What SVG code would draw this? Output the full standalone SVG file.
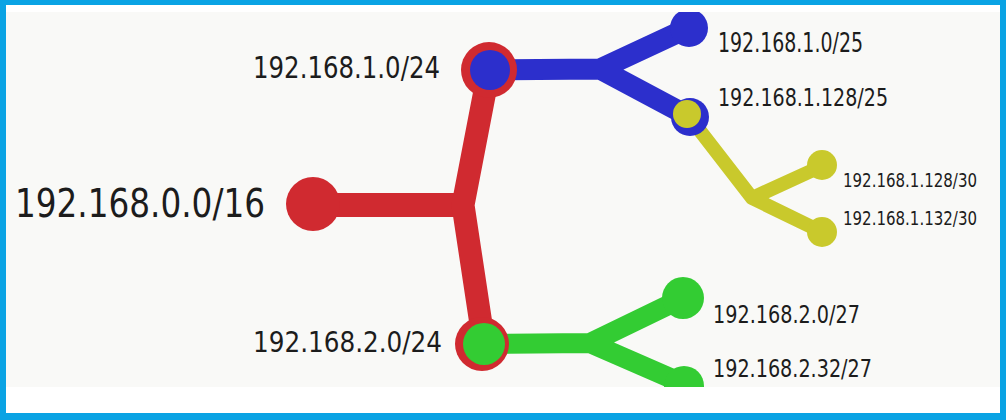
<svg xmlns="http://www.w3.org/2000/svg" width="1006" height="420" viewBox="0 0 1006 420">
  <style>
    .lbl { font-family: "DejaVu Sans Condensed", "DejaVu Sans", "Liberation Sans", sans-serif; fill: #1c1c1c; }
    .red { stroke: #d02a30; fill: none; stroke-linecap: round; stroke-linejoin: round; }
    .blue { stroke: #2c2fcc; fill: none; stroke-linecap: round; stroke-linejoin: round; }
    .green { stroke: #33cc33; fill: none; stroke-linecap: round; stroke-linejoin: round; }
    .yellow { stroke: #c9c92c; fill: none; stroke-linecap: round; stroke-linejoin: round; }
  </style>
  <defs>
    <clipPath id="area">
      <rect x="6" y="12" width="994" height="375"/>
    </clipPath>
  </defs>
  <rect x="0" y="0" width="1006" height="420" fill="#0aa3e4"/>
  <rect x="6" y="5" width="994" height="408" fill="#ffffff"/>
  <rect x="6" y="12" width="994" height="375" fill="#f9f9f7"/>

  <g clip-path="url(#area)">
    <g id="connectors">
      <path class="red" stroke-width="24" d="M313,205 L462,205"/>
      <path class="red" stroke-width="23" d="M489,70 L463,205 L484,344"/>
      <path class="blue" stroke-width="21" d="M490,70 L600,69 L688,28 M600,69 L690,117"/>
      <path class="green" stroke-width="20" d="M484,344 L590,343 L683,298 M590,343 L684,384"/>
      <path class="yellow" stroke-width="14" d="M687,114 L752,198 L822,166 M752,198 L822,232"/>
    </g>

    <g id="node-root">
      <circle cx="313" cy="204" r="27" fill="#d02a30"/>
      <text class="lbl" x="15" y="217" font-size="39" textLength="250" lengthAdjust="spacingAndGlyphs">192.168.0.0/16</text>
    </g>

    <g id="node-1-0-24">
      <circle cx="489" cy="70" r="28" fill="#d02a30"/>
      <circle cx="490" cy="70" r="20" fill="#2c2fcc"/>
      <text class="lbl" x="253" y="78" font-size="30" textLength="187" lengthAdjust="spacingAndGlyphs">192.168.1.0/24</text>
    </g>

    <g id="node-2-0-24">
      <circle cx="482" cy="344" r="27" fill="#d02a30"/>
      <circle cx="484" cy="344" r="21" fill="#33cc33"/>
      <text class="lbl" x="253" y="352" font-size="29" textLength="189" lengthAdjust="spacingAndGlyphs">192.168.2.0/24</text>
    </g>

    <g id="node-1-0-25">
      <circle cx="689" cy="28" r="19" fill="#2c2fcc"/>
      <text class="lbl" x="718" y="52" font-size="26" textLength="145" lengthAdjust="spacingAndGlyphs">192.168.1.0/25</text>
    </g>

    <g id="node-1-128-25">
      <circle cx="690" cy="117" r="19" fill="#2c2fcc"/>
      <circle cx="687" cy="114" r="14" fill="#c9c92c"/>
      <text class="lbl" x="718" y="106" font-size="24" textLength="170" lengthAdjust="spacingAndGlyphs">192.168.1.128/25</text>
    </g>

    <g id="node-1-128-30">
      <circle cx="822" cy="165" r="15" fill="#c9c92c"/>
      <text class="lbl" x="843" y="187" font-size="19" textLength="134" lengthAdjust="spacingAndGlyphs">192.168.1.128/30</text>
    </g>

    <g id="node-1-132-30">
      <circle cx="822" cy="232" r="15" fill="#c9c92c"/>
      <text class="lbl" x="843" y="225" font-size="19" textLength="134" lengthAdjust="spacingAndGlyphs">192.168.1.132/30</text>
    </g>

    <g id="node-2-0-27">
      <circle cx="683" cy="298" r="21" fill="#33cc33"/>
      <text class="lbl" x="713" y="323" font-size="25" textLength="147" lengthAdjust="spacingAndGlyphs">192.168.2.0/27</text>
    </g>

    <g id="node-2-32-27">
      <circle cx="684" cy="386" r="20" fill="#33cc33"/>
      <text class="lbl" x="713" y="377" font-size="25" textLength="159" lengthAdjust="spacingAndGlyphs">192.168.2.32/27</text>
    </g>
  </g>
</svg>
